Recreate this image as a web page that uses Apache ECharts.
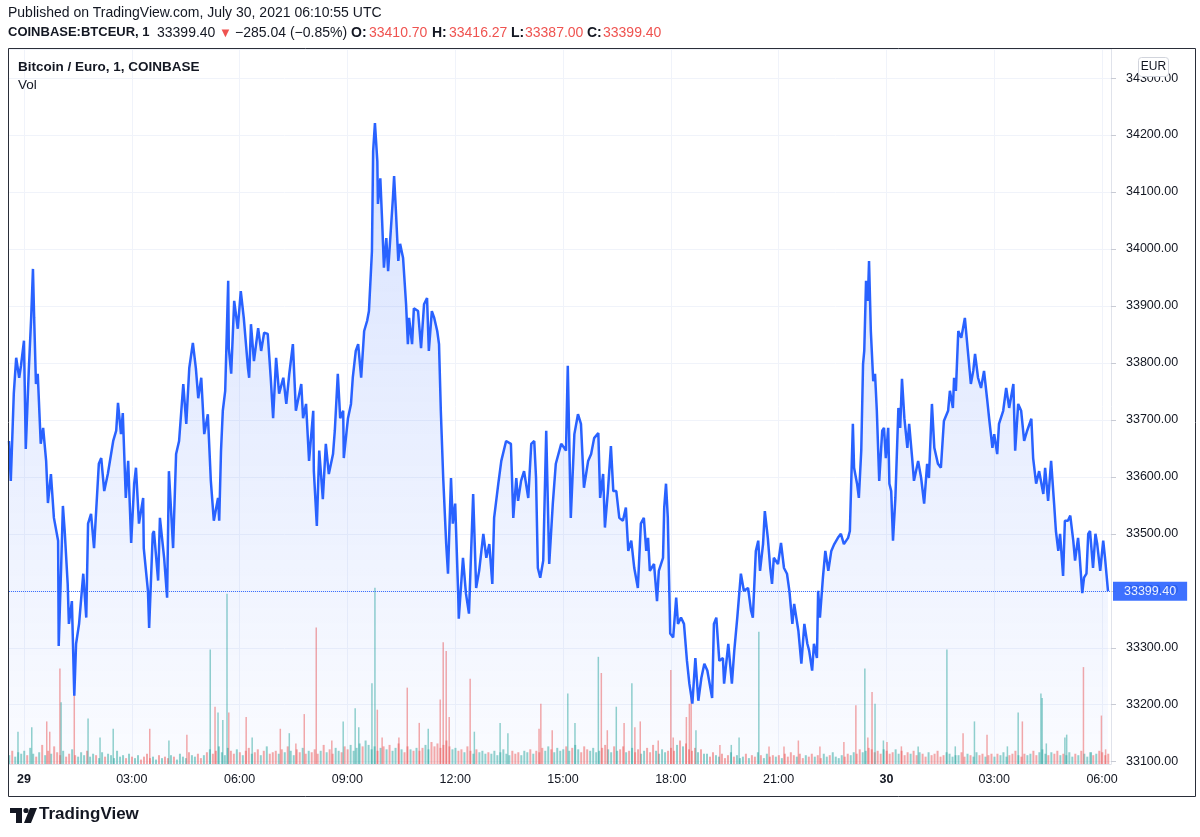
<!DOCTYPE html>
<html><head><meta charset="utf-8">
<script src="https://cdn.jsdelivr.net/npm/echarts@6/dist/echarts.min.js"></script>
<style>html,body{margin:0;padding:0;background:#fff}#c{width:1200px;height:837px}</style>
</head><body><div id="c"></div>
<script>
// minutes from 2021-07-29 00:00 UTC, price in EUR
const pricePoints = [
[-25,33663],[-22,33593],[-17,33746],[-13,33809],[-8,33774],[-5,33795],[0,33839],[3,33649],[8,33786],[12,33879],[15,33965],[17,33879],[20,33763],[23,33781],[28,33658],[32,33686],[37,33628],[40,33554],[45,33605],[50,33528],[57,33488],[58,33303],[62,33440],[65,33549],[68,33505],[73,33412],[75,33342],[80,33382],[84,33216],[87,33307],[92,33342],[99,33430],[104,33353],[107,33518],[112,33535],[117,33475],[125,33623],[129,33633],[134,33575],[140,33605],[149,33663],[154,33681],[157,33730],[162,33675],[165,33712],[170,33563],[174,33628],[179,33484],[184,33588],[187,33616],[192,33518],[199,33563],[200,33475],[207,33400],[209,33335],[215,33500],[217,33505],[224,33418],[227,33528],[234,33458],[239,33388],[242,33610],[249,33475],[254,33640],[259,33663],[266,33763],[271,33693],[276,33791],[282,33835],[287,33791],[291,33738],[296,33774],[301,33675],[307,33710],[312,33593],[317,33523],[324,33563],[326,33523],[329,33646],[332,33716],[336,33751],[341,33944],[342,33826],[346,33781],[351,33909],[357,33860],[362,33926],[367,33879],[374,33791],[376,33774],[379,33868],[384,33803],[391,33861],[396,33821],[401,33853],[407,33851],[412,33774],[416,33703],[421,33809],[426,33746],[433,33774],[438,33728],[443,33781],
[449,33833],[454,33716],[463,33763],[466,33703],[471,33728],[476,33628],[483,33716],[484,33610],[489,33514],[493,33646],[499,33561],[504,33658],[509,33605],[516,33640],[519,33681],[524,33781],[528,33703],[533,33716],[534,33633],[541,33703],[546,33728],[549,33774],[554,33821],[558,33833],[563,33774],[568,33856],[573,33874],[576,33891],[581,33996],[583,34172],[586,34221],[590,34154],[591,34079],[595,34124],[598,34049],[601,33967],[605,34019],[608,33961],[611,34009],[616,34089],[618,34128],[621,34067],[625,33979],[628,34009],[633,33984],[638,33903],[641,33833],[643,33879],[648,33833],[651,33896],[658,33891],[663,33826],[668,33903],[673,33914],[676,33821],[681,33891],[685,33879],[690,33856],[693,33833],[696,33716],[700,33598],[705,33482],[708,33430],[713,33598],[716,33518],[720,33553],[725,33395],[726,33351],[733,33458],[738,33395],[743,33360],[750,33570],[755,33405],[760,33435],[767,33500],[772,33458],[777,33482],[782,33412],[785,33528],[792,33588],[797,33628],[805,33663],[813,33658],[817,33528],[822,33598],[825,33558],[830,33593],[835,33610],[842,33563],[847,33658],[852,33663],[855,33598],[858,33440],[862,33423],[867,33453],[872,33681],[877,33447],[883,33553],[888,33623],[897,33658],[902,33651],[905,33646],[908,33795],[913,33528],[919,33675],[925,33710],[930,33693],[935,33581],[942,33628],[947,33640],[952,33668],[959,33677],[962,33563],[967,33605],[970,33511],[975,33575],[980,33654],[984,33575],[989,33575],[994,33528],[1000,33523],[1005,33546],[1009,33470],[1014,33488],[1019,33440],[1025,33405],[1030,33518],[1035,33528],[1039,33470],[1042,33493],[1045,33435],[1052,33447],[1057,33382],[1060,33435],[1067,33458],[1069,33546],[1072,33588],[1075,33528],[1079,33325],[1084,33318],[1089,33388],[1092,33342],[1097,33353],[1102,33342],[1107,33277],[1111,33237],[1116,33202],[1121,33282],[1126,33207],[1131,33247],[1136,33272],[1141,33260],[1144,33242],[1149,33212],[1152,33342],[1156,33353],[1161,33277],[1167,33282],[1169,33237],[1176,33307],[1182,33237],[1186,33295],[1191,33353],[1197,33430],[1202,33400],[1209,33405],[1214,33365],[1217,33353],[1222,33470],[1226,33488],[1229,33435],[1234,33482],[1237,33540],[1242,33493],[1246,33440],[1249,33412],[1252,33458],[1259,33447],[1264,33484],[1269,33440],[1274,33430],[1278,33400],[1283,33342],[1286,33377],[1293,33330],[1298,33272],[1303,33342],[1308,33307],[1311,33295],[1316,33260],[1319,33307],[1324,33282],[1326,33400],[1329,33353],[1334,33423],[1338,33470],[1343,33435],[1348,33470],[1353,33482],[1359,33493],[1364,33500],[1369,33482],[1376,33493],[1379,33505],[1384,33693],[1386,33616],[1391,33588],[1394,33563],[1398,33646],[1401,33798],[1403,33821],[1406,33944],[1409,33909],[1411,33979],[1414,33856],[1418,33768],[1421,33781],[1424,33716],[1428,33593],[1433,33681],[1436,33686],[1439,33633],[1443,33686],[1445,33588],[1448,33575],[1451,33488],[1455,33563],[1460,33721],[1463,33686],[1466,33772],[1470,33703],[1475,33651],[1478,33693],[1483,33633],[1486,33593],[1493,33628],[1498,33598],[1503,33553],[1508,33623],[1511,33598],[1516,33728],[1520,33651],[1526,33623],[1531,33616],[1536,33698],[1543,33716],[1546,33751],[1551,33721],[1553,33774],[1556,33751],[1560,33856],[1565,33844],[1571,33879],[1576,33821],[1581,33763],[1585,33786],[1588,33816],[1593,33774],[1598,33756],[1603,33786],[1608,33738],[1612,33698],[1617,33651],[1620,33675],[1625,33640],[1628,33693],[1635,33716],[1640,33756],[1645,33721],[1652,33763],[1655,33646],[1660,33728],[1665,33716],[1670,33663],[1675,33681],[1682,33702],[1685,33633],[1690,33588],[1695,33610],[1702,33570],[1705,33616],[1710,33558],[1715,33628],[1720,33553],[1723,33505],[1727,33470],[1730,33500],[1735,33426],[1738,33523],[1743,33523],[1747,33532],[1752,33488],[1755,33453],[1760,33493],[1762,33470],[1767,33396],[1770,33423],[1774,33430],[1777,33500],[1780,33505],[1785,33440],[1789,33500],[1792,33482],[1797,33435],[1802,33488],[1805,33458],[1810,33399.4]
];
// background volume, one value per 5 minutes starting at minute -25 (BTC)
const volumeStart = -25;
const volumeStep = 5;
const volumeBase = [
0.6,0.9,0.5,0.8,0.7,
0.9,0.6,1.1,0.7,0.5,0.8,1.3,0.6,0.9,0.7,1.2,0.8,
0.6,0.9,0.5,0.7,1.0,0.6,0.5,0.8,0.6,0.9,0.5,0.7,
0.6,0.4,0.8,0.5,0.7,0.6,0.4,0.9,0.5,0.6,0.4,0.7,
0.5,0.4,0.6,0.3,0.5,0.7,0.4,0.5,0.3,0.6,0.4,0.5,
0.4,0.6,0.5,0.3,0.7,0.5,0.4,0.8,0.6,0.5,0.7,0.4,
0.6,0.8,1.0,0.7,0.9,1.2,0.8,0.6,1.1,0.9,0.7,1.0,
0.8,0.6,0.9,1.1,0.7,0.8,1.0,0.6,0.9,1.2,0.7,0.8,
0.9,0.7,1.0,0.8,1.2,0.9,0.6,1.0,0.8,1.1,0.7,0.9,
0.8,1.0,0.7,0.9,1.3,0.8,1.0,0.7,1.1,0.9,0.8,1.2,
1.0,1.3,0.9,1.1,1.4,1.2,1.6,1.3,1.0,1.2,0.9,1.1,
1.2,1.0,1.3,0.9,1.1,1.4,1.0,0.8,1.2,1.0,0.9,1.1,
0.9,1.1,1.3,1.0,1.5,1.2,1.4,1.1,1.3,1.6,1.2,1.0,
1.1,0.9,1.0,0.8,1.2,0.9,0.7,1.0,0.8,0.9,0.7,0.8,
0.7,0.9,0.6,0.8,1.0,0.7,0.6,0.9,0.7,0.8,0.6,0.9,
0.8,1.0,0.7,0.9,0.8,1.1,0.9,1.2,1.0,0.8,1.1,0.9,
1.0,1.2,0.9,1.1,1.3,1.0,0.8,1.2,1.0,0.9,1.1,0.8,
0.9,1.1,1.3,1.0,0.8,1.2,0.9,1.0,1.2,0.8,0.9,1.1,
0.8,1.0,0.7,0.9,1.1,0.8,1.3,0.9,0.7,1.0,0.8,0.9,
1.1,0.9,1.3,1.6,1.2,1.4,1.0,0.9,1.1,0.8,1.0,0.7,
0.7,0.5,0.8,0.6,0.5,0.7,0.4,0.6,0.8,0.5,0.6,0.4,
0.5,0.7,0.4,0.6,0.5,0.8,0.6,0.4,0.7,0.5,0.6,0.5,
0.6,0.4,0.7,0.5,0.8,0.6,0.5,0.7,0.4,0.6,0.5,0.7,
0.5,0.6,0.4,0.7,0.5,0.6,0.8,0.5,0.4,0.6,0.5,0.7,
0.6,0.8,0.7,1.0,0.8,0.9,1.1,1.0,0.8,0.9,0.7,1.0,
0.9,0.7,0.8,1.0,0.7,0.9,0.6,0.8,0.7,0.9,0.6,0.8,
0.7,0.5,0.8,0.6,0.7,0.9,0.5,0.6,0.8,0.7,0.5,0.6,
0.6,0.8,0.5,0.7,0.6,0.5,0.8,0.6,0.7,0.5,0.6,0.7,
0.5,0.7,0.6,0.8,0.5,0.6,0.7,0.9,0.6,0.5,0.7,0.6,
0.7,0.9,0.6,0.8,1.0,0.7,0.6,0.8,0.7,0.9,0.6,0.7,
0.6,0.8,0.5,0.7,0.6,0.9,0.7,0.5,0.8,0.6,0.7,0.9,
0.8,0.6,0.7
];
// notable volume spikes [minute, BTC]
const volumeSpikes = [
[-10,2.2],[13,2.5],[38,2.9],[43,2.2],[60,6.5],[62,4.2],[84,4.7],[107,3.1],[127,1.8],[149,2.4],[210,2.4],[242,1.6],[272,2.0],[311,7.8],[319,3.9],[324,3.5],[332,3.0],[339,11.6],[342,3.5],[371,3.2],[381,1.8],[428,2.4],[443,2.1],[454,1.4],[468,3.4],[488,9.3],[514,1.6],[533,2.9],[553,3.8],[559,2.5],[581,5.5],[586,12.0],[590,3.7],[598,1.8],[626,1.8],[640,5.2],[660,2.8],[675,2.4],[695,4.4],[700,8.3],[705,7.7],[710,3.2],[745,5.8],[752,2.2],[795,2.8],[808,2.1],[860,2.4],[863,4.1],[882,2.3],[908,4.8],[920,2.8],[959,7.3],[964,6.2],[974,2.3],[989,3.9],[1002,2.8],[1015,5.5],[1020,2.5],[1029,2.9],[1059,1.6],[1080,6.4],[1084,1.8],[1106,3.2],[1111,4.1],[1114,4.6],[1122,2.3],[1162,1.3],[1181,1.3],[1194,1.8],[1227,9.0],[1244,1.2],[1269,1.2],[1293,1.6],[1329,1.2],[1369,1.5],[1389,4.0],[1404,6.5],[1409,1.8],[1416,4.9],[1421,4.1],[1435,1.6],[1441,1.5],[1465,1.2],[1493,1.2],[1541,7.8],[1555,1.2],[1568,2.1],[1587,2.9],[1608,2.0],[1642,1.2],[1660,3.5],[1667,2.9],[1698,4.8],[1700,4.5],[1707,1.4],[1738,1.8],[1741,2.0],[1769,6.6],[1782,0.8],[1799,3.3],[1806,1.0]
];
const timeTicks = [0,180,360,540,720,900,1080,1260,1440,1620,1800];
const lastPrice = pricePoints[pricePoints.length-1][1];
const headerQuote = {symbol:'COINBASE:BTCEUR, 1', last:'33399.40', change:'\u2212285.04 (\u22120.85%)', o:'33410.70', h:'33416.27', l:'33387.00', c:'33399.40'};

const FONT = '"Liberation Sans", Arial, sans-serif';
const UP = 'rgba(38,166,154,0.5)', DOWN = 'rgba(239,83,80,0.5)';
const DARK = '#131722', RED = '#ef5350';

function priceIndexAt(t){
  let lo=0, hi=pricePoints.length-1;
  while(lo<hi){ const mid=(lo+hi+1)>>1; if(pricePoints[mid][0]<=t) lo=mid; else hi=mid-1; }
  return lo;
}
function volColor(t){
  const k = priceIndexAt(t);
  if(k===0) return UP;
  return pricePoints[k][1] >= pricePoints[k-1][1] ? UP : DOWN;
}
const baseData = volumeBase.map((v,i)=>[volumeStart+i*volumeStep, v]);

function hdr(x, text, color, bold, size){
  return {type:'text', left:x, top:26, z:100,
    style:{text:text, fill:color, font:(bold?'bold ':'')+(size||14)+'px '+FONT}};
}

const chart = echarts.init(document.getElementById('c'));
chart.setOption({
  animation:false,
  textStyle:{fontFamily:FONT},
  grid:{left:9,right:89,top:49,bottom:73},
  xAxis:{
    type:'value', min:-25, max:1815,
    axisLine:{show:true,onZero:false,lineStyle:{color:'#e0e3eb'}},
    axisTick:{show:false, customValues:timeTicks},
    splitLine:{show:true,lineStyle:{color:'#f0f3fa',width:1}},
    axisLabel:{
      customValues:timeTicks, margin:9, color:DARK, fontSize:12.5, fontFamily:FONT,
      formatter:function(v){
        const d = new Date(Date.UTC(2021,6,29) + v*60000);
        const hh = d.getUTCHours(), mm = d.getUTCMinutes();
        if(hh===0 && mm===0) return '{b|' + d.getUTCDate() + '}';
        return (hh<10?'0':'')+hh+':'+(mm<10?'0':'')+mm;
      },
      rich:{b:{fontWeight:'bold',fontSize:12.5,color:DARK,fontFamily:FONT}}
    }
  },
  yAxis:[{
    type:'value', position:'right', min:33096, max:34351, splitNumber:12, scale:true,
    axisLine:{show:true,onZero:false,lineStyle:{color:'#e0e3eb'}},
    axisTick:{show:true,length:5,lineStyle:{color:'#c8cbd4'}},
    splitLine:{show:true,lineStyle:{color:'#f0f3fa'}},
    axisLabel:{showMinLabel:false,showMaxLabel:false,margin:15,color:DARK,fontSize:12.5,fontFamily:FONT,
      formatter:v=>v.toFixed(2)}
  },{
    type:'value', position:'left', min:0, max:48.7, show:false,
    axisLine:{show:false,onZero:false}, axisTick:{show:false}, axisLabel:{show:false}, splitLine:{show:false}
  }],
  series:[
    {type:'bar', yAxisIndex:1, data:baseData, barWidth:2, barGap:'-100%', silent:true,
      itemStyle:{color:p=>volColor(p.data[0])}},
    {type:'bar', yAxisIndex:1, data:volumeSpikes, barWidth:1.5, barGap:'-100%', silent:true,
      itemStyle:{color:p=>volColor(p.data[0])}},
    {type:'line', data:pricePoints, showSymbol:false, symbol:'none', smooth:false,
      lineStyle:{color:'#2962ff',width:2.5},
      areaStyle:{origin:'start',color:new echarts.graphic.LinearGradient(0,0,0,1,[
        {offset:0,color:'rgba(41,98,255,0.26)'},{offset:1,color:'rgba(41,98,255,0.03)'}])},
      markLine:{silent:true,symbol:['none','none'],
        lineStyle:{color:'#2962ff',type:'dotted',width:1,opacity:0.9},
        label:{show:true,position:'end',distance:2,formatter:()=>lastPrice.toFixed(2),
          backgroundColor:'#2962ff',color:'#fff',padding:[3,11,3,11],fontSize:12.5,fontFamily:FONT},
        data:[{yAxis:lastPrice}]}
    }
  ],
  graphic:[
    {type:'rect',shape:{x:8.5,y:48.5,width:1187,height:748},style:{fill:'none',stroke:'#2a2e39',lineWidth:1},silent:true,z:100},
    {type:'text',left:8,top:6,z:100,style:{text:'Published on TradingView.com, July 30, 2021 06:10:55 UTC',fill:DARK,font:'14px '+FONT}},
    hdr(8, headerQuote.symbol, DARK, true, 13),
    hdr(157, headerQuote.last, DARK, false),
    {type:'text', left:219, top:27, z:100, style:{text:'\u25BC', fill:RED, font:'13px '+FONT}},
    hdr(235, headerQuote.change, DARK, false),
    hdr(351, 'O:', DARK, true),
    hdr(369, headerQuote.o, RED, false),
    hdr(432, 'H:', DARK, true),
    hdr(449, headerQuote.h, RED, false),
    hdr(511, 'L:', DARK, true),
    hdr(525, headerQuote.l, RED, false),
    hdr(587, 'C:', DARK, true),
    hdr(603, headerQuote.c, RED, false),
    {type:'text',left:18,top:60,z:100,style:{text:'Bitcoin / Euro, 1, COINBASE',fill:DARK,font:'bold 13.5px '+FONT}},
    {type:'text',left:18,top:78,z:100,style:{text:'Vol',fill:DARK,font:'13.5px '+FONT}},
    {type:'rect',z:100,shape:{x:1138.5,y:57.5,width:30,height:19,r:3},style:{fill:'#fff',stroke:'#d1d4dc',lineWidth:1}},
    {type:'text',z:101,x:1153.5,y:67,style:{text:'EUR',fill:DARK,font:'12px '+FONT,align:'center',verticalAlign:'middle'}},
    {type:'rect',shape:{x:10,y:808,width:12,height:5},style:{fill:DARK}},
    {type:'rect',shape:{x:16,y:808,width:6,height:15},style:{fill:DARK}},
    {type:'circle',shape:{cx:26,cy:810.5,r:2.6},style:{fill:DARK}},
    {type:'polygon',shape:{points:[[30,808],[37,808],[31,823],[24,823]]},style:{fill:DARK}},
    {type:'text',left:39,top:806,style:{text:'TradingView',fill:DARK,font:'bold 17px '+FONT}}
  ]
});
</script>
</body></html>
